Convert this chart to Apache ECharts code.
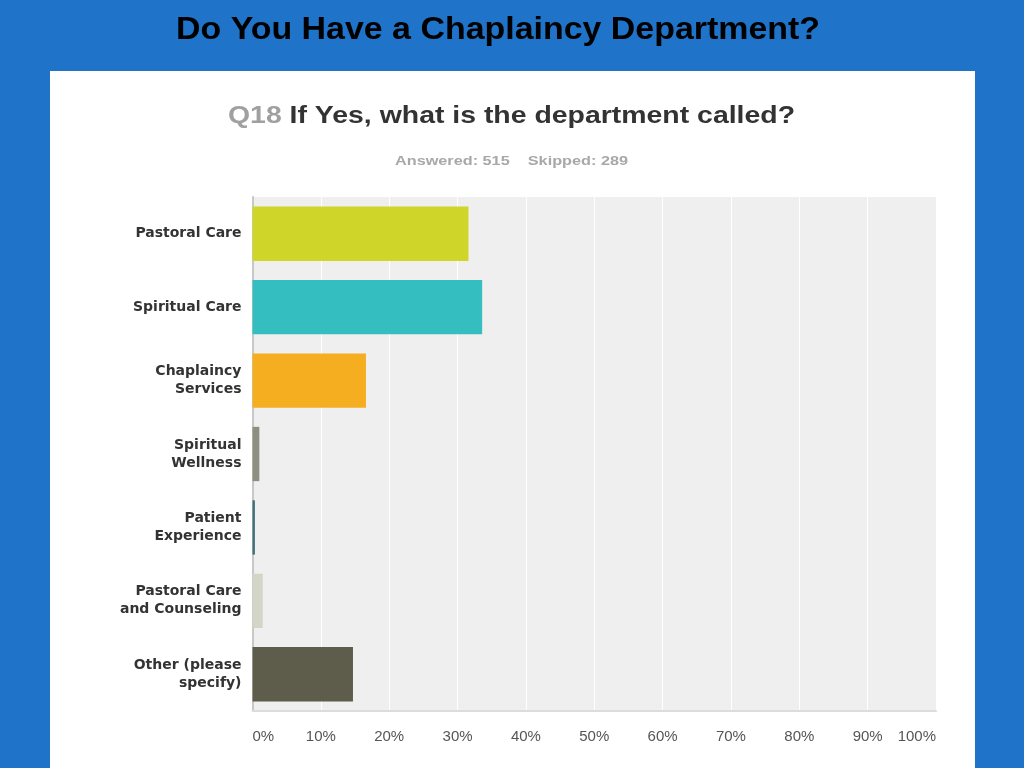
<!DOCTYPE html>
<html><head><meta charset="utf-8">
<script src="https://cdn.jsdelivr.net/npm/echarts@6/dist/echarts.min.js"></script>
<style>html,body{margin:0;padding:0;background:#1f73c8;}#c{width:1024px;height:768px;}</style>
</head><body><div id="c"></div>
<script>
var categories = ['Pastoral Care', 'Spiritual Care', 'Chaplaincy\nServices', 'Spiritual\nWellness', 'Patient\nExperience', 'Pastoral Care\nand Counseling', 'Other (please\nspecify)'];
var values = [31.6, 33.6, 16.6, 1.0, 0.35, 1.5, 14.7];
var barColors = ['#d0d52a', '#34bec0', '#f5ae1f', '#8e8f80', '#3f6f78', '#d3d5c7', '#5e5d4b'];
var xTicks = [0, 10, 20, 30, 40, 50, 60, 70, 80, 90, 100];

var mc = document.createElement('canvas').getContext('2d');
function measure(font, text) { mc.font = font; return mc.measureText(text).width; }

function fitText(text, font, fill, x, y, width) {
  var w = measure(font, text);
  var s = width / w;
  return {type: 'text', x: x, y: y, scaleX: s, scaleY: 1, originX: 0, originY: 0, z: 10,
    style: {text: text, font: font, fill: fill, textAlign: 'left', textVerticalAlign: 'middle', verticalAlign: 'middle'}};
}

var titleFont = 'bold 32px "Liberation Sans"';
var subFont = 'bold 24px "Liberation Sans"';
var ansFont = 'bold 13px "Liberation Sans"';
var wQ = measure(subFont, 'Q18 ');
var wR = measure(subFont, 'If Yes, what is the department called?');
var subScale = 567 / (wQ + wR);

var chart = echarts.init(document.getElementById('c'));
chart.setOption({
  backgroundColor: '#1f73c8',
  animation: false,
  graphic: [
    {type: 'rect', z: -10, shape: {x: 50, y: 71, width: 925, height: 697}, style: {fill: '#ffffff'}},
    fitText('Do You Have a Chaplaincy Department?', titleFont, '#000000', 176, 30, 644),
    {type: 'text', x: 228, y: 116, scaleX: subScale, originX: 0, z: 10,
      style: {text: 'Q18 ', font: subFont, fill: '#a0a0a0', textAlign: 'left', textVerticalAlign: 'middle', verticalAlign: 'middle'}},
    {type: 'text', x: 228 + wQ * subScale, y: 116, scaleX: subScale, originX: 0, z: 10,
      style: {text: 'If Yes, what is the department called?', font: subFont, fill: '#333333', textAlign: 'left', textVerticalAlign: 'middle', verticalAlign: 'middle'}},
    fitText('Answered: 515    Skipped: 289', ansFont, '#a8a8a8', 395, 161.5, 233)
  ],
  grid: {left: 252.5, right: 88, top: 197, bottom: 57, show: true, backgroundColor: '#efefef', borderWidth: 0, containLabel: false},
  xAxis: {
    type: 'value', min: 0, max: 100, interval: 10,
    axisLine: {show: true, lineStyle: {color: '#dcdcdc', width: 2}},
    axisTick: {show: false},
    splitLine: {show: true, lineStyle: {color: '#ffffff', width: 1}},
    axisLabel: {
      formatter: function (v) { return xTicks.indexOf(v) >= 0 ? v + '%' : ''; },
      color: '#555', fontFamily: 'Liberation Sans', fontSize: 15, margin: 18,
      alignMinLabel: 'left', alignMaxLabel: 'right'
    }
  },
  yAxis: {
    type: 'category', data: categories, inverse: true,
    axisLine: {show: true, lineStyle: {color: '#c8c8c8', width: 2}},
    axisTick: {show: false},
    axisLabel: {color: '#333', fontFamily: 'DejaVu Sans', fontWeight: 'bold', fontSize: 14, lineHeight: 18, margin: 11, align: 'right'}
  },
  series: [{
    type: 'bar', barWidth: '74%',
    data: values.map(function (v, i) { return {value: v, itemStyle: {color: barColors[i]}}; })
  }]
});
</script></body></html>
